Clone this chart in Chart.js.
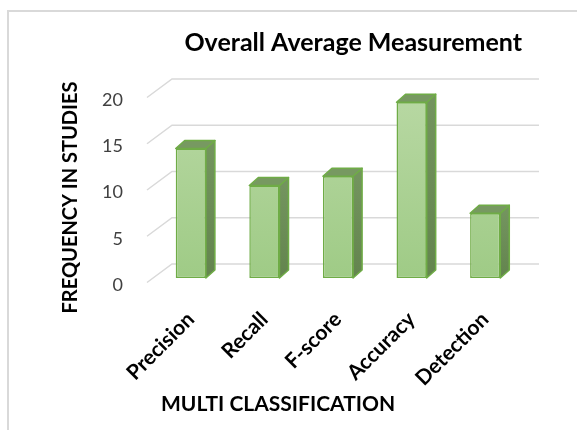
<!DOCTYPE html>
<html>
<head>
<meta charset="utf-8">
<script src="https://cdn.jsdelivr.net/npm/chart.js@4.4.1/dist/chart.umd.min.js"></script>
<style>
  html, body { margin: 0; padding: 0; background: #fff; }
  #wrap { position: relative; width: 577px; height: 430px; overflow: hidden; }
  #wrap canvas { position: absolute; left: 0; top: 0; }
  #frame { position: absolute; left: 7px; top: 10px; width: 620px; height: 460px;
           border-left: 2px solid #d9d9d9; border-top: 2px solid #d9d9d9; pointer-events: none; }
</style>
</head>
<body>
<div id="wrap">
  <canvas id="chart" width="577" height="430"></canvas>
  <div id="frame"></div>
</div>
<script>
const categories = ['Precision', 'Recall', 'F-score', 'Accuracy', 'Detection'];
const frequency = [14, 10, 11, 19, 7];
const yTicks = [0, 5, 10, 15, 20];

const chartTitle = 'Overall Average Measurement';
const xTitle = 'MULTI CLASSIFICATION';
const yTitle = 'FREQUENCY IN STUDIES';

// depth of the extruded bars and of the back wall, in pixels
const BAR_DX = 9, BAR_DY = 8;
const WALL_DX = 25, WALL_DY = 14, FLOOR_DY = 4.5;

// back wall gridlines plus the slanted side-wall lines
const walls = {
  id: 'walls',
  beforeDatasetsDraw(chart) {
    const { ctx, chartArea: a, scales: { y } } = chart;
    ctx.save();
    ctx.strokeStyle = '#d9d9d9';
    ctx.lineWidth = 1.5;
    yTicks.forEach(v => {
      const py = y.getPixelForValue(v);
      ctx.beginPath();
      ctx.moveTo(a.left - 7, py + FLOOR_DY);
      ctx.lineTo(a.left - 7 + WALL_DX, py - WALL_DY);
      ctx.lineTo(a.right + 17, py - WALL_DY);
      ctx.stroke();
    });
    ctx.restore();
  }
};

// side and top faces that give each bar its depth
const extrude = {
  id: 'extrude',
  afterDatasetsDraw(chart) {
    const { ctx } = chart;
    const meta = chart.getDatasetMeta(0);
    ctx.save();
    ctx.lineJoin = 'round';
    ctx.lineWidth = 1.5;
    ctx.strokeStyle = '#6fac46';
    meta.data.forEach(bar => {
      const { x, y, base, width } = bar.getProps(['x', 'y', 'base', 'width'], true);
      const l = x - width / 2, r = x + width / 2;
      const side = ctx.createLinearGradient(0, y, 0, base);
      side.addColorStop(0, '#73945e');
      side.addColorStop(1, '#63844e');
      ctx.fillStyle = side;
      ctx.beginPath();
      ctx.moveTo(r, y);
      ctx.lineTo(r + BAR_DX, y - BAR_DY);
      ctx.lineTo(r + BAR_DX, base - BAR_DY);
      ctx.lineTo(r, base);
      ctx.closePath();
      ctx.fill();
      ctx.stroke();
      ctx.fillStyle = '#779961';
      ctx.beginPath();
      ctx.moveTo(l, y);
      ctx.lineTo(l + BAR_DX, y - BAR_DY);
      ctx.lineTo(r + BAR_DX, y - BAR_DY);
      ctx.lineTo(r, y);
      ctx.closePath();
      ctx.fill();
      ctx.stroke();
    });
    ctx.restore();
  }
};

const axisTitles = {
  id: 'axisTitles',
  afterDraw(chart) {
    const { ctx, chartArea: a } = chart;
    ctx.save();
    ctx.fillStyle = '#000';
    ctx.textBaseline = 'middle';
    ctx.textAlign = 'left';
    ctx.font = 'bold 21px Lato';
    ctx.fillText(xTitle, a.left + 7, 404);
    ctx.font = 'bold 20px Lato';
    ctx.translate(71, (a.top + a.bottom) / 2 + 12);
    ctx.rotate(-Math.PI / 2);
    ctx.textAlign = 'center';
    ctx.fillText(yTitle, 0, 0);
    ctx.restore();
  }
};

const frontFill = (context) => {
  const { chart } = context;
  const a = chart.chartArea;
  if (!a) return '#a9d08e';
  const g = chart.ctx.createLinearGradient(0, a.top, 0, a.bottom);
  g.addColorStop(0, '#b8d8a3');
  g.addColorStop(1, '#9fcb86');
  return g;
};

new Chart(document.getElementById('chart'), {
  type: 'bar',
  data: {
    labels: categories,
    datasets: [{
      data: frequency,
      backgroundColor: frontFill,
      borderColor: '#6fac46',
      borderWidth: 1.5,
      borderSkipped: false,
      barPercentage: 0.41,
      categoryPercentage: 1
    }]
  },
  options: {
    responsive: false,
    animation: false,
    devicePixelRatio: 1,
    layout: { padding: { left: 50, right: 55, top: 0, bottom: 22 } },
    plugins: {
      legend: { display: false },
      tooltip: { enabled: false },
      title: {
        display: true,
        text: chartTitle,
        align: 'end',
        color: '#000',
        font: { family: 'Lato', size: 25, weight: 'bold' },
        padding: { top: 27.5, bottom: 35.5 }
      }
    },
    scales: {
      x: {
        grid: { display: false, drawTicks: false },
        border: { display: false },
        ticks: {
          autoSkip: false,
          minRotation: 45,
          maxRotation: 45,
          padding: 29,
          color: '#000',
          font: { family: 'Lato', size: 21, weight: 'bold' }
        },
        afterFit: s => { s.height = 130; }
      },
      y: {
        min: 0,
        max: 20,
        grid: { display: false, drawTicks: false },
        border: { display: false },
        afterBuildTicks: s => { s.ticks = yTicks.map(v => ({ value: v })); },
        ticks: {
          padding: 31,
          labelOffset: 7,
          color: '#404040',
          font: { family: 'Lato', size: 18 }
        },
        afterFit: s => { s.width = 104; }
      }
    }
  },
  plugins: [walls, extrude, axisTitles]
});
</script>
</body>
</html>
